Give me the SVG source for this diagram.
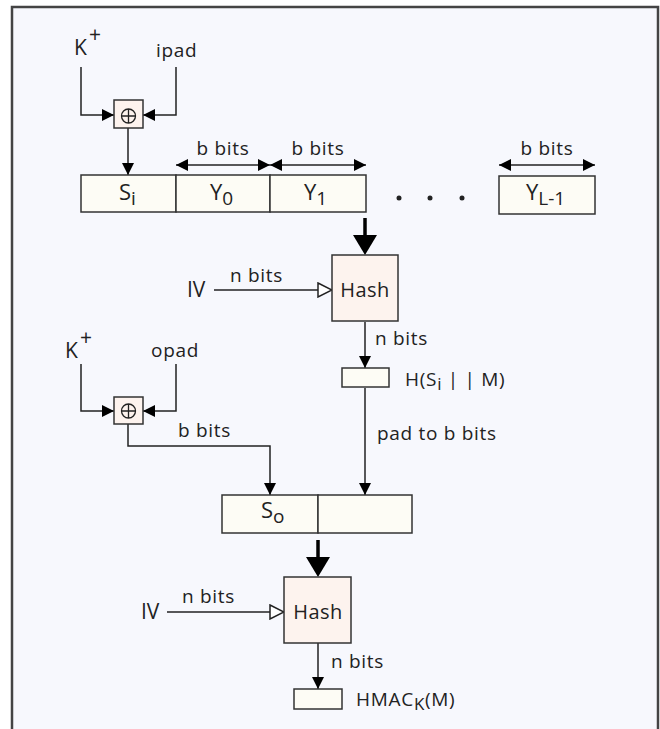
<svg xmlns="http://www.w3.org/2000/svg" width="660" height="729" viewBox="0 0 660 729">
<defs>
<style>
text{font-family:"Open Sans","Noto Sans","DejaVu Sans",sans-serif;fill:#222;}
.lbl{font-size:19px;letter-spacing:0.7px;}
.cell{font-size:22px;}
.sub{font-size:19px;}
.big{font-size:21px;}
.hl{font-size:20px;letter-spacing:0.4px;}
.ln{stroke:#222;stroke-width:1.5;fill:none;}
.thick{stroke:#000;stroke-width:3.5;fill:none;}
.box{fill:#fdfcf5;stroke:#333;stroke-width:1.5;}
.hash{fill:#fdf3ee;stroke:#333;stroke-width:1.5;}
.ah{fill:#000;}
</style>
<marker id="arr" viewBox="0 0 12 12" refX="12" refY="6" markerWidth="12" markerHeight="12" markerUnits="userSpaceOnUse" orient="auto-start-reverse">
<path d="M0,0 L12,6 L0,12 Z" fill="#000"/>
</marker>
<marker id="open" viewBox="0 0 16 16" refX="15" refY="8" markerWidth="16" markerHeight="16" markerUnits="userSpaceOnUse" orient="auto">
<path d="M1,1 L15,8 L1,15 Z" fill="#fff" stroke="#222" stroke-width="1.5"/>
</marker>
</defs>
<rect x="0" y="0" width="660" height="729" fill="#fff"/>
<rect x="12" y="7" width="646" height="730" fill="#f7f8fd" stroke="#444" stroke-width="2.5"/>

<g id="connectors">
<path class="ln" d="M81,67 V115 H114" marker-end="url(#arr)"/>
<path class="ln" d="M176,67 V115 H143" marker-end="url(#arr)"/>
<path class="ln" d="M128,128 V175" marker-end="url(#arr)"/>
<path class="ln" d="M176,165 H270" marker-start="url(#arr)" marker-end="url(#arr)"/>
<path class="ln" d="M270,165 H366" marker-start="url(#arr)" marker-end="url(#arr)"/>
<path class="ln" d="M499,165 H595" marker-start="url(#arr)" marker-end="url(#arr)"/>
<line class="thick" x1="365" y1="218" x2="365" y2="240"/>
<polygon class="ah" points="353,235 377,235 365,255"/>
<path class="ln" d="M214,290 H332" marker-end="url(#open)"/>
<path class="ln" d="M365,322 V368" marker-end="url(#arr)"/>
<path class="ln" d="M81,364 V411 H114" marker-end="url(#arr)"/>
<path class="ln" d="M176,364 V411 H143" marker-end="url(#arr)"/>
<path class="ln" d="M128,424 V446 H270 V495" marker-end="url(#arr)"/>
<path class="ln" d="M365,388 V495" marker-end="url(#arr)"/>
<line class="thick" x1="318" y1="540" x2="318" y2="562"/>
<polygon class="ah" points="306,557 330,557 318,577"/>
<path class="ln" d="M167,612 H284" marker-end="url(#open)"/>
<path class="ln" d="M318,643 V689" marker-end="url(#arr)"/>
</g>

<g id="kplus1"><text class="big" x="74" y="55">K</text><text class="big" x="89" y="42">+</text></g>
<g id="ipad"><text class="lbl" x="156" y="57">ipad</text></g>
<g id="xor1"><rect class="hash" x="114" y="100" width="29" height="28"/><circle cx="128.5" cy="116" r="7" fill="none" stroke="#222" stroke-width="1.3"/><path d="M121.5,116 H135.5 M128.5,109 V123" stroke="#222" stroke-width="1.3"/></g>

<g id="row1">
<rect class="box" x="81" y="175" width="95" height="37"/>
<rect class="box" x="176" y="175" width="94" height="37"/>
<rect class="box" x="270" y="175" width="96" height="37"/>
<text class="cell" x="119" y="200">S<tspan class="sub" dy="5">i</tspan></text>
<text class="cell" x="210" y="200">Y<tspan class="sub" dy="5">0</tspan></text>
<text class="cell" x="304" y="200">Y<tspan class="sub" dy="5">1</tspan></text>
</g>
<g id="dots"><circle cx="399" cy="198" r="2.5" fill="#222"/><circle cx="430" cy="198" r="2.5" fill="#222"/><circle cx="462" cy="198" r="2.5" fill="#222"/></g>
<g id="yl1"><rect class="box" x="499" y="176" width="96" height="38"/><text class="cell" x="526" y="200">Y<tspan class="sub" dy="5">L-1</tspan></text></g>

<g id="bbits-labels">
<text class="lbl" x="223" y="155" text-anchor="middle">b bits</text>
<text class="lbl" x="318" y="155" text-anchor="middle">b bits</text>
<text class="lbl" x="547" y="155" text-anchor="middle">b bits</text>
</g>

<g id="hash1"><rect class="hash" x="332" y="255" width="66" height="66"/><text class="hl" x="365" y="297" text-anchor="middle">Hash</text></g>
<g id="iv1"><text class="big" x="187" y="297">IV</text><text class="lbl" x="230" y="282">n bits</text></g>
<g id="hsim"><rect class="box" x="342" y="368" width="47" height="19"/><text class="lbl" x="375" y="345">n bits</text><text class="lbl" x="405" y="386">H(S<tspan dy="4" style="font-size:17px">i</tspan><tspan dy="-4"> | |  M)</tspan></text></g>
<g id="padlabel"><text class="lbl" x="377" y="440">pad to b bits</text></g>

<g id="kplus2"><text class="big" x="65" y="358">K</text><text class="big" x="80" y="345">+</text></g>
<g id="opad"><text class="lbl" x="151" y="357">opad</text></g>
<g id="xor2"><rect class="hash" x="114" y="397" width="29" height="27"/><circle cx="128.5" cy="411" r="7" fill="none" stroke="#222" stroke-width="1.3"/><path d="M121.5,411 H135.5 M128.5,404 V418" stroke="#222" stroke-width="1.3"/></g>
<g id="bbits2"><text class="lbl" x="178" y="437">b bits</text></g>

<g id="row2">
<rect class="box" x="222" y="495" width="96" height="38"/>
<rect class="box" x="318" y="495" width="94" height="38"/>
<text class="cell" x="261" y="518">S<tspan class="sub" dy="5">o</tspan></text>
</g>

<g id="hash2"><rect class="hash" x="284" y="577" width="67" height="66"/><text class="hl" x="318" y="619" text-anchor="middle">Hash</text></g>
<g id="iv2"><text class="big" x="141" y="619">IV</text><text class="lbl" x="182" y="603">n bits</text></g>
<g id="hmac"><rect class="box" x="294" y="689" width="48" height="20"/><text class="lbl" x="331" y="668">n bits</text><text class="lbl" x="356" y="706">HMAC<tspan dy="4" style="font-size:17px">K</tspan><tspan dy="-4">(M)</tspan></text></g>
</svg>
